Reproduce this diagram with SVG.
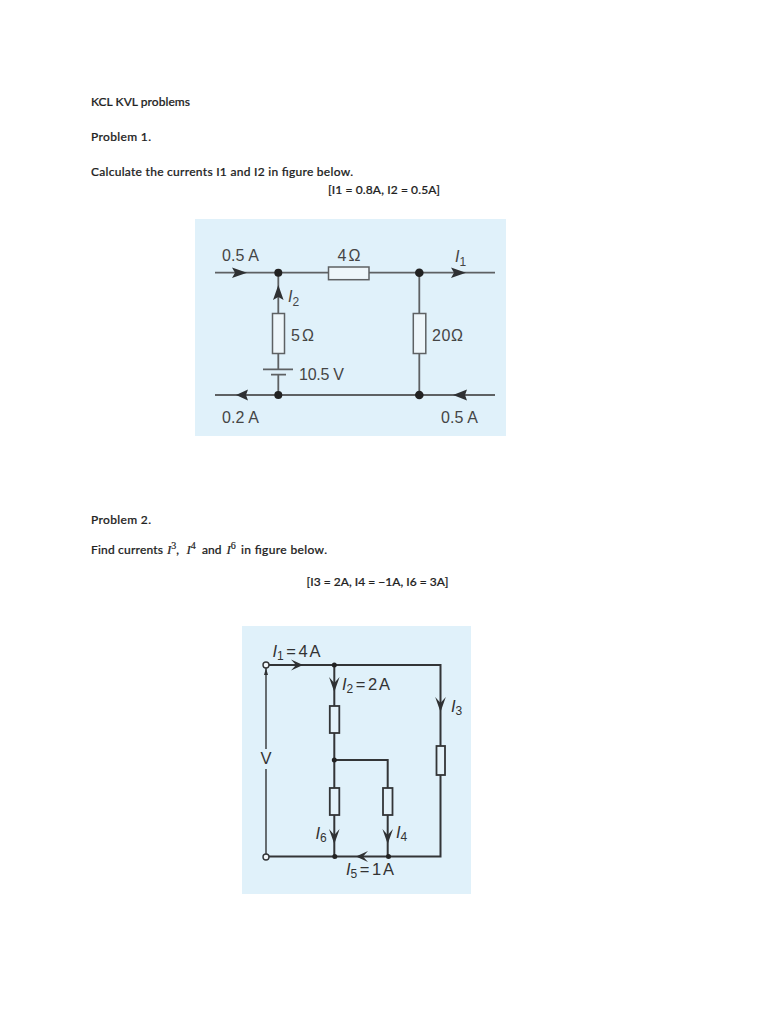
<svg xmlns="http://www.w3.org/2000/svg" width="768" height="1024" viewBox="0 0 768 1024">
<style>
.b{font-family:"Lato","Liberation Sans",sans-serif;font-size:12px;font-weight:500;fill:#222;stroke:#222;stroke-width:.2}
.m{font-family:"Liberation Serif",serif;font-style:italic;font-size:13px}
.s{font-family:"Liberation Serif",serif;font-size:10px}
.c{font-family:"Liberation Sans",sans-serif;font-size:16px;fill:#454545}
.d{font-family:"Liberation Sans",sans-serif;font-size:16.500px;fill:#333;word-spacing:-2px}
.w1{fill:none;stroke:#5e6163;stroke-width:1.800}
.r1{fill:#eef6fa;stroke:#5e6163;stroke-width:1.500}
.w2{fill:none;stroke:#333537;stroke-width:2}
.r2{fill:#e4f2f9;stroke:#333537;stroke-width:1.800}
.a1{fill:#2f3133}
.a2{fill:#2f3133}
</style>
<rect width="768" height="1024" fill="#ffffff"/>
<g id="text-top">
<text class="b" x="91" y="106" textLength="99">KCL KVL problems</text>
<text class="b" x="91" y="141" textLength="60">Problem 1.</text>
<text class="b" x="91" y="176" textLength="262">Calculate the currents I1 and I2 in figure below.</text>
<text class="b" x="328" y="194" textLength="112">[I1 = 0.8A, I2 = 0.5A]</text>
<text class="b" x="91" y="524" textLength="60">Problem 2.</text>
<text class="b" x="91" y="554"><tspan textLength="72">Find currents</tspan> <tspan class="m" x="167">I</tspan><tspan class="s" dy="-5">3</tspan><tspan dy="5">,</tspan> <tspan class="m" x="186.500">I</tspan><tspan class="s" dy="-5">4</tspan> <tspan dy="5" x="202">and</tspan> <tspan class="m" x="226.500">I</tspan><tspan class="s" dy="-5">6</tspan> <tspan dy="5" x="241" textLength="86">in figure below.</tspan></text>
<text class="b" x="306.500" y="586" textLength="142">[I3 = 2A, I4 = −1A, I6 = 3A]</text>
</g>
<rect id="panel1" x="195" y="219" width="311" height="217" fill="#e0f1fa"/>
<g id="connectors1">
<path class="w1" d="M215 272.700H328M369 272.700H495M215 395H495M278.300 272.700V313M278.300 353V369M278.300 375V395M419.300 272.700V313M419.300 353V395"/>
<path class="w1" d="M263 369.300H293M271 374.700H286"/>
<path class="a1" d="M247 272.700L232 267.500L235 272.700L232 278Z"/>
<path class="a1" d="M466 272.700L451 267.500L454 272.700L451 278Z"/>
<path class="a1" d="M236 395L248 389.500L246 395L248 400.500Z"/>
<path class="a1" d="M453 395L467 389.500L465 395L467 400.500Z"/>
<path class="a1" d="M278.300 285L273 300L278.300 297L283.600 300Z"/>
</g>
<g id="n-r4"><rect class="r1" x="328.500" y="267" width="40.500" height="12.700"/><text class="c" x="337.500" y="261" textLength="23">4Ω</text></g>
<g id="n-r5"><rect class="r1" x="272.500" y="313.500" width="12" height="40"/><text class="c" x="291" y="341" textLength="23">5Ω</text></g>
<g id="n-r20"><rect class="r1" x="413.300" y="313.500" width="12.500" height="40"/><text class="c" x="432" y="341" textLength="31">20Ω</text></g>
<g id="n-batt"><text class="c" x="299" y="380" textLength="45">10.5 V</text></g>
<g id="j1"><circle cx="278.300" cy="272.700" r="4" fill="#222"/><circle cx="419.300" cy="272.700" r="4.300" fill="#222"/><circle cx="278.300" cy="395" r="4" fill="#222"/><circle cx="419.300" cy="395" r="4.300" fill="#222"/></g>
<g id="labels1">
<text class="c" x="222" y="261" textLength="37">0.5 A</text>
<text class="c" x="222" y="423" textLength="37">0.2 A</text>
<text class="c" x="441" y="423" textLength="37">0.5 A</text>
<text class="c" x="455" y="262" font-style="italic">I<tspan font-size="12" font-style="normal" dy="4">1</tspan></text>
<text class="c" x="288" y="302" font-style="italic">I<tspan font-size="12" font-style="normal" dy="4">2</tspan></text>
</g>
<rect id="panel2" x="242" y="626" width="229" height="268" fill="#e0f1fa"/>
<g id="connectors2">
<path class="w2" d="M269 665H440.500V746M440.500 775V856.500H269M334.300 665V706M334.300 733V788M334.300 815V856.500M334.300 760H387.700V788M387.700 815V856.500"/>
<path class="w2" style="stroke-width:1.400" d="M266 668V749M266 769V854"/>
<path class="a2" d="M303 665L291 659.500L296 665L291 670.500Z"/>
<path class="a2" d="M266 668L264 675H268Z"/>
<path class="a2" d="M334.300 692L329 677L334.300 683L339.600 677Z"/>
<path class="a2" d="M440.500 712L435.200 697L440.500 703L445.800 697Z"/>
<path class="a2" d="M334.300 844L329 829L334.300 835L339.600 829Z"/>
<path class="a2" d="M387.700 844L382.400 829L387.700 835L393 829Z"/>
<path class="a2" d="M356 856.500L368 851L363 856.500L368 862Z"/>
</g>
<g id="n-ra"><rect class="r2" x="329.800" y="706" width="9.500" height="27"/></g>
<g id="n-rb"><rect class="r2" x="329.800" y="788" width="9.500" height="27"/></g>
<g id="n-rc"><rect class="r2" x="383" y="788" width="9.500" height="27"/></g>
<g id="n-rd"><rect class="r2" x="436.500" y="746" width="8.500" height="29"/></g>
<g id="j2"><circle cx="266" cy="665" r="3" fill="#f2f7fa" stroke="#333537" stroke-width="1.400"/><circle cx="266" cy="857" r="3" fill="#f2f7fa" stroke="#333537" stroke-width="1.400"/>
<circle cx="334.300" cy="665" r="2.500" fill="#222"/><circle cx="334.300" cy="760" r="2.500" fill="#222"/><circle cx="334.800" cy="856.500" r="2.500" fill="#222"/><circle cx="388.500" cy="856.500" r="2.500" fill="#222"/></g>
<g id="labels2">
<text class="d" x="272.500" y="656.500"><tspan font-style="italic">I</tspan><tspan font-size="12" dy="3">1</tspan><tspan dy="-3"> = 4 A</tspan></text>
<text class="d" x="342" y="690"><tspan font-style="italic">I</tspan><tspan font-size="12" dy="3">2</tspan><tspan dy="-3"> = 2 A</tspan></text>
<text class="d" x="451" y="712" font-style="italic">I<tspan font-size="12" font-style="normal" dy="3">3</tspan></text>
<text class="d" x="396" y="838" font-style="italic">I<tspan font-size="12" font-style="normal" dy="3">4</tspan></text>
<text class="d" x="315.500" y="839" font-style="italic">I<tspan font-size="12" font-style="normal" dy="3">6</tspan></text>
<text class="d" x="346" y="875"><tspan font-style="italic">I</tspan><tspan font-size="12" dy="3">5</tspan><tspan dy="-3"> = 1 A</tspan></text>
<text class="d" x="260.500" y="763.500">V</text>
</g>
</svg>
